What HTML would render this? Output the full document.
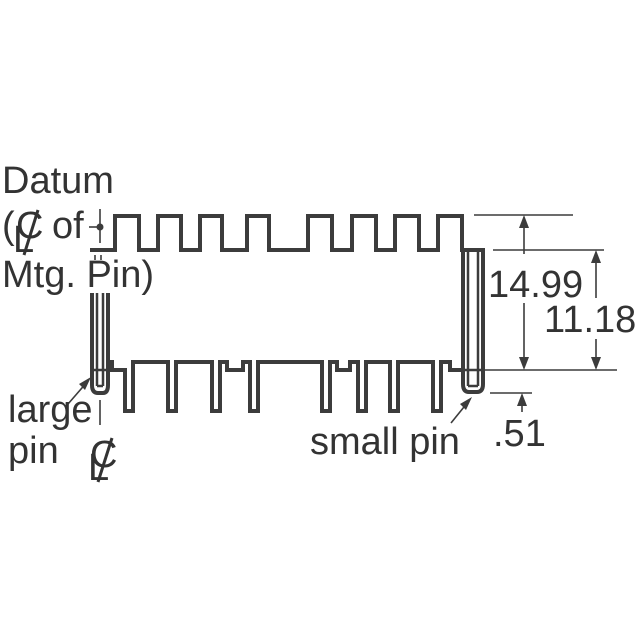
<!DOCTYPE html>
<html><head><meta charset="utf-8"><style>
html,body{margin:0;padding:0;background:#fff;}
svg{display:block;}
text{font-family:"Liberation Sans",sans-serif;fill:#333;font-size:38px;}
</style></head><body>
<svg width="640" height="640" viewBox="0 0 640 640" xmlns="http://www.w3.org/2000/svg">
<g fill="none" stroke="#3c3c3c" stroke-width="4">
<path d="M90 250 H115 V216 H139 V250 H158 V216 H181 V250 H200 V216 H222 V250 H247 V216 H269 V250 H308 V216 H332 V250 H352 V216 H376 V250 H395 V216 H419 V250 H438 V216 H462 V250 H484"/>
<path d="M108 362 H112 V370 H125 V411 H133 V362 H168 V411 H176 V362 H212 V411 H220 V362 H227 V370 H243 V362 H250 V411 H258 V362 H322 V411 H330 V362 H337 V370 H350 V362 H358 V411 H366 V362 H390 V411 H398 V362 H433 V411 H441 V362 H450 V370 H463"/>
<path d="M92 293 V385 Q92 393 98 393 H103 Q108 393 108 385 V293"/>
<line x1="97" y1="293" x2="97" y2="386" stroke-width="2.5"/>
<line x1="103" y1="293" x2="103" y2="386" stroke-width="2.5"/>
<path d="M92 370 H108 M97 386 H103" stroke-width="2.5"/>
<path d="M463 250 V384 Q463 392 469 392 H477 Q483 392 483 384 V250 H463"/>
<line x1="468" y1="252" x2="468" y2="386" stroke-width="2.5"/>
<line x1="478" y1="252" x2="478" y2="386" stroke-width="2.5"/>
<path d="M463 370 H483 M468 386 H478" stroke-width="2.5"/>
</g>
<g stroke="#3c3c3c" stroke-width="1.6" fill="none">
<line x1="100" y1="209" x2="100" y2="243"/>
<line x1="89" y1="227" x2="100" y2="227"/>
<line x1="95" y1="255" x2="95" y2="260"/><line x1="101" y1="255" x2="101" y2="260"/>
<line x1="100" y1="400" x2="100" y2="425"/>
<line x1="474" y1="215" x2="573" y2="215"/>
<line x1="493" y1="250" x2="604" y2="250"/>
<line x1="485" y1="370" x2="617" y2="370"/>
<line x1="490" y1="393" x2="532" y2="393"/>
<line x1="524" y1="225" x2="524" y2="254"/>
<line x1="524" y1="303" x2="524" y2="360"/>
<line x1="596" y1="260" x2="596" y2="298"/>
<line x1="596" y1="339" x2="596" y2="360"/>
<line x1="522" y1="403" x2="522" y2="412"/>
<line x1="68" y1="404" x2="88" y2="381"/>
<line x1="451" y1="423" x2="468" y2="402"/>
</g>
<g fill="#3c3c3c">
<circle cx="100" cy="227" r="3.5"/>
<polygon points="524,215 519,228 529,228"/>
<polygon points="524,370 519,357 529,357"/>
<polygon points="596,250 591,263 601,263"/>
<polygon points="596,370 591,357 601,357"/>
<polygon points="522,393 517,406 527,406"/>
<polygon points="91,377 79,384 85,390"/>
<polygon points="472,397 460,404 466,410"/>
</g>
<text x="2" y="193">Datum</text>
<text x="2" y="238">(</text>
<text x="16" y="238">C</text>
<text x="13" y="252" font-size="30">L</text>
<line x1="38" y1="210" x2="24" y2="255" stroke="#333" stroke-width="3"/>
<text x="52" y="238">of</text>
<text x="2" y="287">Mtg. Pin)</text>
<text x="8" y="422">large</text>
<text x="8" y="463">pin</text>
<text x="90" y="467">C</text>
<text x="88" y="480" font-size="30">L</text>
<line x1="112" y1="438" x2="98" y2="482" stroke="#333" stroke-width="3"/>
<text x="310" y="454">small pin</text>
<text x="488" y="297">14.99</text>
<text x="544" y="332">11.18</text>
<text x="493" y="446">.51</text>
</svg>
</body></html>
